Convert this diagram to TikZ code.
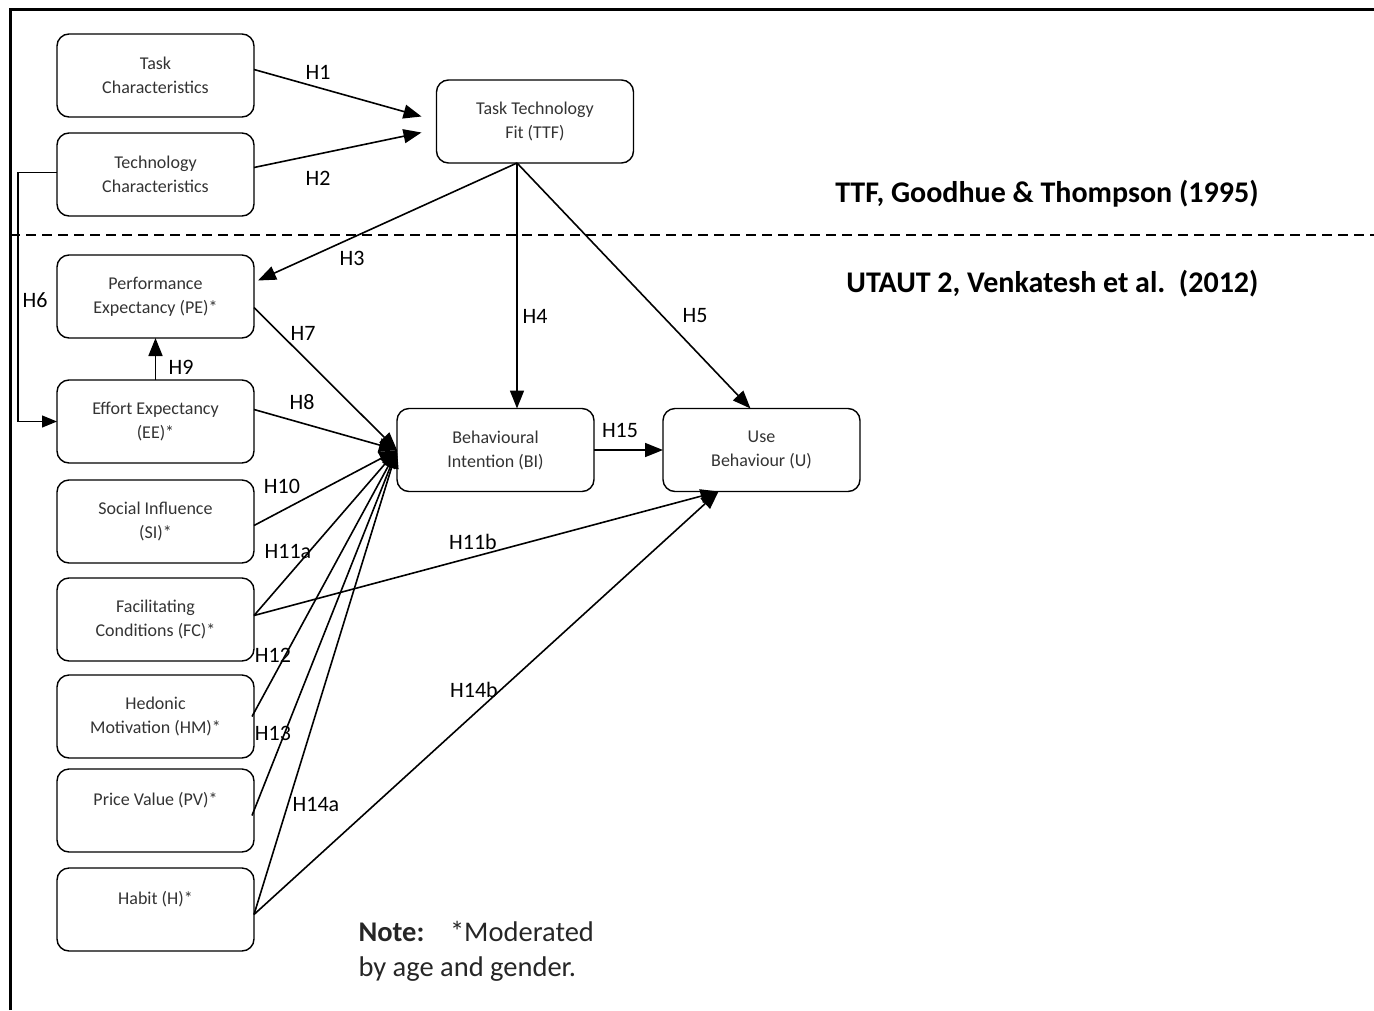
\documentclass[tikz,border=0pt]{standalone}
\usepackage{fontspec}
\setmainfont{Carlito}
\usetikzlibrary{arrows.meta,positioning}

\begin{document}
\begin{tikzpicture}[
    x=1pt, y=-1pt,
    node distance=15pt,
    every node/.style={font=\fontsize{18}{24}\selectfont},
    box/.style={draw, line width=1.4pt, outer sep=0pt, rounded corners=12pt, align=center, minimum width=197pt, minimum height=83pt, text=black!80},
    hyp/.style={font=\fontsize{22}{24}\selectfont},
    title/.style={font=\fontsize{30}{32}\selectfont\bfseries, anchor=east},
    flow/.style={-{Triangle[length=18pt,width=14pt]}, line width=1.6pt},
    feed/.style={-{Triangle[length=15pt,width=12pt]}, line width=1.2pt}
]
\useasboundingbox (0,0) rectangle (1374,1010);
% frame and split line
\draw[line width=3pt] (10,1010) -- (10,9) -- (1374,9);
\draw[line width=2pt, dash pattern=on 10pt off 6pt] (10,235) -- (1374,235);
\node[title] (ttftitle) at (1262,194) {TTF, Goodhue \& Thompson (1995)};
\node[title] (utauttitle) at (1262,284) {UTAUT 2, Venkatesh et al.\ \ (2012)};

% constructs
\node[box] (tc) at (155.5,75.5) {Task\\Characteristics};
\node[box, below=16pt of tc] (tech) {Technology\\Characteristics};
\node[box, below=39pt of tech] (pe) {Performance\\Expectancy (PE)*};
\node[box, below=42pt of pe] (ee) {Effort Expectancy\\(EE)*};
\node[box, below=17pt of ee] (si) {Social Influence\\(SI)*};
\node[box, below=of si] (fc) {Facilitating\\Conditions (FC)*};
\node[box, below=14pt of fc] (hm) {Hedonic\\Motivation (HM)*};
\node[box, below=11pt of hm] (pv) {Price Value (PV)*\\\mbox{}};
\node[box, below=16pt of pv] (habit) {Habit (H)*\\\mbox{}};
\node[box] (ttf) at (535,121.5) {Task Technology\\Fit (TTF)};
\node[box] (bi) at (495.5,450) {Behavioural\\Intention (BI)};
\node[box, right=69pt of bi] (ub) {Use\\Behaviour (U)};

\coordinate (ttfout) at ([xshift=-18pt]ttf.south);
\coordinate (h1tip) at ([xshift=-15pt,yshift=5pt]ttf.west);
\coordinate (h2tip) at ([xshift=-15pt,yshift=-11pt]ttf.west);
\coordinate (ubin) at ([xshift=-43pt]ub.south);

% TTF paths
\draw[flow] ([yshift=6pt]tc.east) -- (h1tip);
\draw[flow] ([yshift=7pt]tech.east) -- (h2tip);
\draw[flow] (ttfout) -- ([xshift=4pt,yshift=16pt]pe.east);
\draw[flow] (ttfout) -- (ttfout |- bi.north);
\draw[flow] (ttfout) -- ([xshift=-11pt]ub.north);
\draw[feed] ([yshift=2pt]tech.west) -- ++(-39,0) |- (ee.west);
\draw[flow] (ee.north) -- (pe.south);

% UTAUT 2 paths
\draw[flow] ([yshift=-11pt]pe.east) -- (bi.west);
\draw[flow] ([yshift=12pt]ee.east) -- (bi.west);
\draw[flow] ([yshift=-4pt]si.east) -- (bi.west);
\draw[flow] ([yshift=4pt]fc.east) -- (bi.west);
\draw[flow] ([xshift=-2pt]hm.east) -- (bi.west);
\draw[flow] ([xshift=-2pt,yshift=-5pt]pv.east) -- (bi.west);
\draw[flow] ([yshift=-5pt]habit.east) -- (bi.west);
\draw[flow] ([yshift=4pt]fc.east) -- (ubin);
\draw[flow] ([yshift=-5pt]habit.east) -- (ubin);
\draw[flow] (bi.east) -- (ub.west);

% hypothesis labels
\node[hyp] (h1) at (318,72) {H1};
\node[hyp] (h2) at (318,178) {H2};
\node[hyp] (h3) at (352,258) {H3};
\node[hyp] (h4) at (535,316) {H4};
\node[hyp] (h5) at (695,316) {H5};
\node[hyp] (h6) at (35,300) {H6};
\node[hyp] (h7) at (303,333) {H7};
\node[hyp] (h8) at (302,402) {H8};
\node[hyp] (h9) at (181,367) {H9};
\node[hyp] (h10) at (282,486) {H10};
\node[hyp] (h11a) at (288,551) {H11a};
\node[hyp] (h11b) at (473,542) {H11b};
\node[hyp] (h12) at (273,655) {H12};
\node[hyp] (h13) at (273,733) {H13};
\node[hyp] (h14a) at (316,804) {H14a};
\node[hyp] (h14b) at (474,690) {H14b};
\node[hyp] (h15) at (620,430) {H15};

\node[anchor=north west, align=left, font=\fontsize{28.5}{35}\selectfont, text=black!85] (note) at (355,918) {\textbf{Note:}\hspace{0.9em}*Moderated\\by age and gender.};
\end{tikzpicture}
\end{document}
